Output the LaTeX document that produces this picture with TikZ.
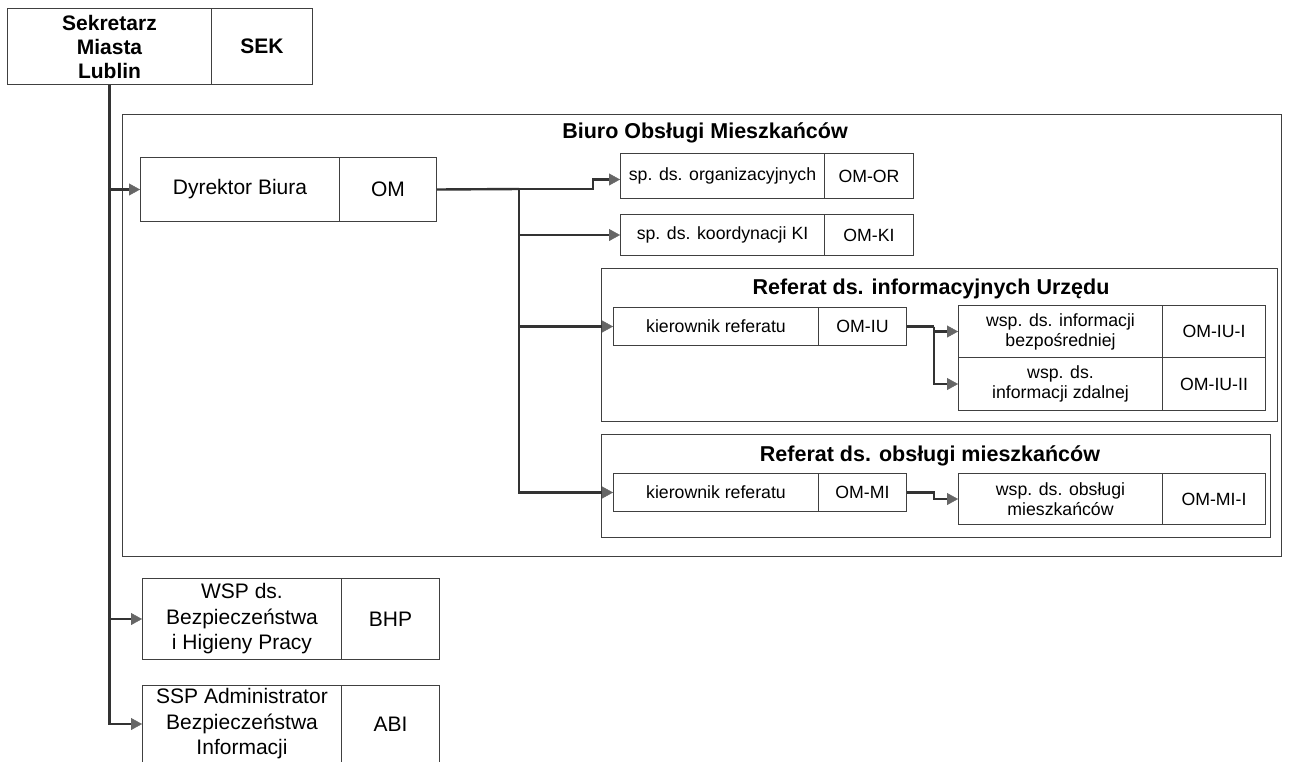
\documentclass[tikz,border=0pt]{standalone}
\usepackage{fontspec}
\setmainfont{Liberation Sans}
\usetikzlibrary{arrows.meta}
\begin{document}
\begin{tikzpicture}[x=1pt,y=-1pt,
  box/.style={draw=black!75,line width=1pt,fill=white,inner sep=0pt,anchor=north west,align=center},
  big/.style={font=\fontsize{21}{25.5}\selectfont},
  small/.style={font=\fontsize{17.7}{20}\selectfont},
  frame/.style={draw=black!75,line width=1.2pt,fill=white,inner sep=0pt,anchor=north west},
  ttl/.style={font=\bfseries\fontsize{21.5}{25}\selectfont,anchor=base},
  conn/.style={draw=black!80,line width=2.4pt},
  arr/.style={conn,-{Triangle[length=11pt,width=12pt,line width=0.4pt,color=black!60]}}]
\useasboundingbox (0,0) rectangle (1289,761);
% containers
\node[frame,minimum width=1159pt,minimum height=442pt] (biuro) at (122,114) {};
\node[ttl] (biurot) at (705,138) {Biuro Obsługi Mieszkańców};
\node[frame,minimum width=676pt,minimum height=153pt] (refiu) at (601,268) {};
\node[ttl] (refiut) at (931,294) {Referat ds. informacyjnych Urzędu};
\node[frame,minimum width=669pt,minimum height=103pt] (refmi) at (601,434) {};
\node[ttl] (refmit) at (930,461) {Referat ds. obsługi mieszkańców};
% boxes
\node[box,font=\bfseries\fontsize{21}{24}\selectfont,minimum width=204pt,minimum height=76pt] (sek) at (7,8) {Sekretarz\\Miasta\\Lublin};
\node[box,font=\bfseries\fontsize{21}{24}\selectfont,minimum width=101pt,minimum height=76pt] (sekc) at (211,8) {SEK};
\node[box,big,minimum width=199pt,minimum height=64pt] (dyr) at (140,157) {Dyrektor Biura};
\node[box,big,minimum width=97pt,minimum height=64pt] (dyrc) at (339,157) {OM};
\node[box,small,minimum width=204pt,minimum height=45pt] (or) at (620,153) {sp. ds. organizacyjnych};
\node[box,small,minimum width=89pt,minimum height=45pt] (orc) at (824,153) {OM-OR};
\node[box,small,minimum width=204pt,minimum height=41pt] (ki) at (620,214) {sp. ds. koordynacji KI};
\node[box,small,minimum width=89pt,minimum height=41pt] (kic) at (824,214) {OM-KI};
\node[box,small,minimum width=205pt,minimum height=38pt] (kiu) at (613,307) {kierownik referatu};
\node[box,small,minimum width=88pt,minimum height=38pt] (kiuc) at (818,307) {OM-IU};
\node[box,small,minimum width=204pt,minimum height=52pt] (iu1) at (958,305) {wsp. ds. informacji\\bezpośredniej};
\node[box,small,minimum width=103pt,minimum height=52pt] (iu1c) at (1162,305) {OM-IU-I};
\node[box,small,minimum width=204pt,minimum height=53pt] (iu2) at (958,357) {wsp. ds.\\informacji zdalnej};
\node[box,small,minimum width=103pt,minimum height=53pt] (iu2c) at (1162,357) {OM-IU-II};
\node[box,small,minimum width=205pt,minimum height=38pt] (kmi) at (613,473) {kierownik referatu};
\node[box,small,minimum width=88pt,minimum height=38pt] (kmic) at (818,473) {OM-MI};
\node[box,small,minimum width=204pt,minimum height=51pt] (mi1) at (958,473) {wsp. ds. obsługi\\mieszkańców};
\node[box,small,minimum width=103pt,minimum height=51pt] (mi1c) at (1162,473) {OM-MI-I};
\node[box,big,minimum width=199pt,minimum height=81pt] (bhp) at (142,578) {WSP ds.\\Bezpieczeństwa\\i Higieny Pracy};
\node[box,big,minimum width=98pt,minimum height=81pt] (bhpc) at (341,578) {BHP};
\node[box,big,minimum width=199pt,minimum height=77pt] (abi) at (142,685) {SSP Administrator\\Bezpieczeństwa\\Informacji};
\node[box,big,minimum width=98pt,minimum height=77pt] (abic) at (341,685) {ABI};
% connectors
\draw[arr] (sek.south) |- (dyr.west);
\draw[arr] (sek.south) |- (bhp.west);
\draw[arr] (sek.south) |- (abi.west);
\coordinate (j1) at (519,189);
\coordinate (jor) at (593,189);
\draw[conn] (dyrc.east) -- (j1);
\draw[arr] (j1) -- (jor) |- ([yshift=-3.5pt]or.west);
\draw[arr] (j1) |- (ki.west);
\draw[arr] (j1) |- (kiu.west);
\draw[arr] (j1) |- (kmi.west);
\draw[conn] (kiuc.east) -- ++(27,0) coordinate (j2);
\draw[arr] (j2) |- (iu1.west);
\draw[arr] (j2) |- (iu2.west);
\draw[arr] (kmic.east) -- (kmic.east -| j2) |- (mi1.west);
\end{tikzpicture}
\end{document}
